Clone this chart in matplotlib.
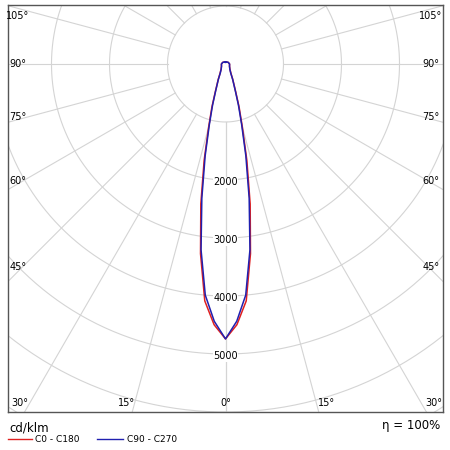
import numpy as np
import matplotlib
matplotlib.use("Agg")
import matplotlib.pyplot as plt

angles_deg = [0, 2.5, 5, 7.5, 10, 12.5, 15, 17.5, 20, 25, 30, 40, 60, 90, 120, 150, 180]
c0_c180 = [4740, 4500, 4100, 3300, 2450, 1700, 1120, 780, 520, 300, 190, 120, 80, 70, 55, 40, 30]
c90_c270 = [4740, 4440, 4000, 3230, 2350, 1620, 1070, 740, 500, 290, 180, 115, 80, 70, 55, 40, 30]
radial_ticks = [2000, 3000, 4000, 5000]
grid_radii = [1000, 2000, 3000, 4000, 5000, 6000, 7000, 8000]
angle_lines = list(range(0, 181, 15))

fig = plt.figure(figsize=(4.5, 4.5), dpi=100)
ax = fig.add_axes([8/450, 38/450, 435/450, 407/450])
ax.set_xlim(-3750, 3750)
ax.set_ylim(-6000, 1017)
ax.set_aspect('equal')
ax.set_xticks([]); ax.set_yticks([])
for s in ax.spines.values():
    s.set_color('#555555'); s.set_linewidth(1)

gc = '#d4d4d4'
t = np.linspace(0, 2*np.pi, 400)
for r in grid_radii:
    ax.plot(r*np.cos(t), r*np.sin(t), color=gc, lw=0.8, zorder=1)
for a in angle_lines:
    ar = np.radians(a)
    for sgn in (1, -1):
        ax.plot([sgn*1000*np.sin(ar), sgn*9000*np.sin(ar)],
                [-1000*np.cos(ar), -9000*np.cos(ar)], color=gc, lw=0.8, zorder=1)

def curve(vals):
    th = np.radians(angles_deg)
    v = np.array(vals)
    full_th = np.concatenate([-th[::-1], th[1:]])
    full_v = np.concatenate([v[::-1], v[1:]])
    return full_v*np.sin(full_th), -full_v*np.cos(full_th)

x, y = curve(c0_c180)
ax.plot(x, y, color='#e02020', lw=1.1, zorder=3)
x, y = curve(c90_c270)
ax.plot(x, y, color='#2020b0', lw=1.1, zorder=4)

for r in radial_ticks:
    ax.text(0, -r - 40, str(r), ha='center', va='center', fontsize=7, zorder=5,
            bbox=dict(facecolor='white', edgecolor='none', pad=0.5))

# angle labels at box edges
sidelab = {105: 16, 90: 64, 75: 117, 60: 181, 45: 267}
px = 1000/58.0
for a, ypix in sidelab.items():
    yd = (64 - ypix)*px
    ax.text(-3750 + 10*px, yd, f"{a}°", ha='center', va='center', fontsize=7)
    ax.text(3750 - 12*px, yd, f"{a}°", ha='center', va='center', fontsize=7)
for a, xoff in [(30, -206), (15, -99), (0, 0), (15, 101), (30, 208)]:
    ax.text(xoff*px, (64-403)*px, f"{a}°", ha='center', va='center', fontsize=7)

fig.text(9/450, 1-428/450, "cd/klm", fontsize=8.5, va='center')
fig.text(440/450, 1-426/450, "η = 100%", fontsize=8.5, va='center', ha='right')
fig.add_artist(plt.Line2D([8/450, 32/450], [1-439/450]*2, color='#e02020', lw=1))
fig.text(35/450, 1-439/450, "C0 - C180", fontsize=6.5, va='center')
fig.add_artist(plt.Line2D([97/450, 123/450], [1-439/450]*2, color='#2020b0', lw=1))
fig.text(127/450, 1-439/450, "C90 - C270", fontsize=6.5, va='center')

fig.savefig("out.png", dpi=100)
